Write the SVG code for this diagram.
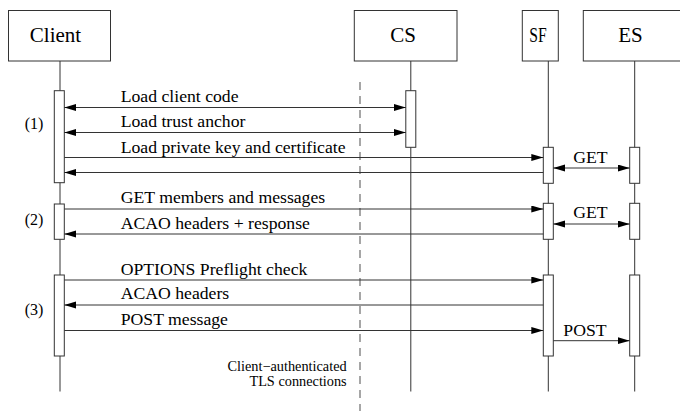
<svg xmlns="http://www.w3.org/2000/svg" width="680" height="411" viewBox="0 0 680 411">
<defs>
<marker id="ah" markerUnits="userSpaceOnUse" markerWidth="13" markerHeight="8" refX="12" refY="3.5" orient="auto-start-reverse">
<path d="M0,0 L12,3.5 L0,7 z" fill="#000"/>
</marker>
<style>
.box{fill:#fff;stroke:#333;stroke-width:1}
.life{stroke:#333;stroke-width:1;fill:none}
.act{fill:#fff;stroke:#333;stroke-width:1}
.msg{stroke:#333;stroke-width:1;fill:none}
.big{font-size:21px;text-anchor:middle}
.m{font-size:17.7px}
.s{font-size:14.3px;text-anchor:end}
.lab{font-size:16px;text-anchor:middle}
</style>
</defs>
<rect width="680" height="411" fill="#fff"/>
<g id="lifelines">
<line class="life" x1="60" y1="61" x2="60" y2="391.5"/>
<line class="life" x1="410.8" y1="61" x2="410.8" y2="391.5"/>
<line class="life" x1="548.3" y1="61" x2="548.3" y2="391.5"/>
<line class="life" x1="634.7" y1="61" x2="634.7" y2="391.5"/>
</g>
<line id="tls-boundary" x1="360" y1="82" x2="360" y2="411" stroke="#777" stroke-width="1.3" stroke-dasharray="8,6"/>
<g font-family="Liberation Serif, serif" fill="#000">
<g id="client">
<rect class="box" x="8.5" y="10.5" width="102" height="50.5"/>
<text class="big" x="55.5" y="41.7">Client</text>
<rect class="act" x="54.3" y="90.7" width="10" height="92"/>
<rect class="act" x="54.3" y="204" width="10" height="35.3"/>
<rect class="act" x="54.3" y="275" width="10" height="81"/>
</g>
<g id="cs">
<rect class="box" x="354.3" y="10.5" width="102.7" height="50.5"/>
<text class="big" x="403" y="41.7">CS</text>
<rect class="act" x="405.8" y="90.7" width="10" height="56.6"/>
</g>
<g id="sf">
<rect class="box" x="522.3" y="10.5" width="36" height="50.5"/>
<text class="big" x="538" y="41.7" textLength="17.4" lengthAdjust="spacingAndGlyphs">SF</text>
<rect class="act" x="543.3" y="147.3" width="10" height="36"/>
<rect class="act" x="543.3" y="203.3" width="10" height="36"/>
<rect class="act" x="543.3" y="275" width="10" height="81"/>
</g>
<g id="es">
<rect class="box" x="583.3" y="10.5" width="102.7" height="50.5"/>
<text class="big" x="630.5" y="41.7">ES</text>
<rect class="act" x="629.7" y="147.3" width="10" height="36"/>
<rect class="act" x="629.7" y="203.3" width="10" height="36"/>
<rect class="act" x="629.7" y="275" width="10" height="81"/>
</g>
<g id="labels">
<text class="lab" x="34" y="128.5">(1)</text>
<text class="lab" x="34" y="225">(2)</text>
<text class="lab" x="34" y="315">(3)</text>
<text class="s" x="346.7" y="371.3">Client−authenticated</text>
<text class="s" x="346.7" y="386">TLS connections</text>
</g>
<g id="connectors">
<line class="msg" x1="64.3" y1="107.5" x2="405.8" y2="107.5" marker-start="url(#ah)" marker-end="url(#ah)"/>
<text class="m" x="120.7" y="102">Load client code</text>
<line class="msg" x1="64.3" y1="132.5" x2="405.8" y2="132.5" marker-start="url(#ah)" marker-end="url(#ah)"/>
<text class="m" x="120.7" y="127">Load trust anchor</text>
<line class="msg" x1="64.3" y1="157.5" x2="543.3" y2="157.5" marker-end="url(#ah)"/>
<text class="m" x="120.7" y="153">Load private key and certificate</text>
<line class="msg" x1="543.3" y1="172.5" x2="64.3" y2="172.5" marker-end="url(#ah)"/>
<line class="msg" x1="553.3" y1="168" x2="629.7" y2="168" marker-start="url(#ah)" marker-end="url(#ah)"/>
<text class="m" x="590.5" y="162.7" text-anchor="middle">GET</text>
<line class="msg" x1="64.3" y1="209" x2="543.3" y2="209" marker-end="url(#ah)"/>
<text class="m" x="120.7" y="203.3">GET members and messages</text>
<line class="msg" x1="543.3" y1="234" x2="64.3" y2="234" marker-end="url(#ah)"/>
<text class="m" x="120.7" y="229">ACAO headers + response</text>
<line class="msg" x1="553.3" y1="224" x2="629.7" y2="224" marker-start="url(#ah)" marker-end="url(#ah)"/>
<text class="m" x="590.5" y="218.3" text-anchor="middle">GET</text>
<line class="msg" x1="64.3" y1="280" x2="543.3" y2="280" marker-end="url(#ah)"/>
<text class="m" x="120.7" y="275">OPTIONS Preflight check</text>
<line class="msg" x1="543.3" y1="305" x2="64.3" y2="305" marker-end="url(#ah)"/>
<text class="m" x="120.7" y="299.3">ACAO headers</text>
<line class="msg" x1="64.3" y1="330.5" x2="543.3" y2="330.5" marker-end="url(#ah)"/>
<text class="m" x="120.7" y="325">POST message</text>
<line class="msg" x1="553.3" y1="340.7" x2="629.7" y2="340.7" marker-end="url(#ah)"/>
<text class="m" x="585" y="336" text-anchor="middle">POST</text>
</g>
</g>
</svg>
